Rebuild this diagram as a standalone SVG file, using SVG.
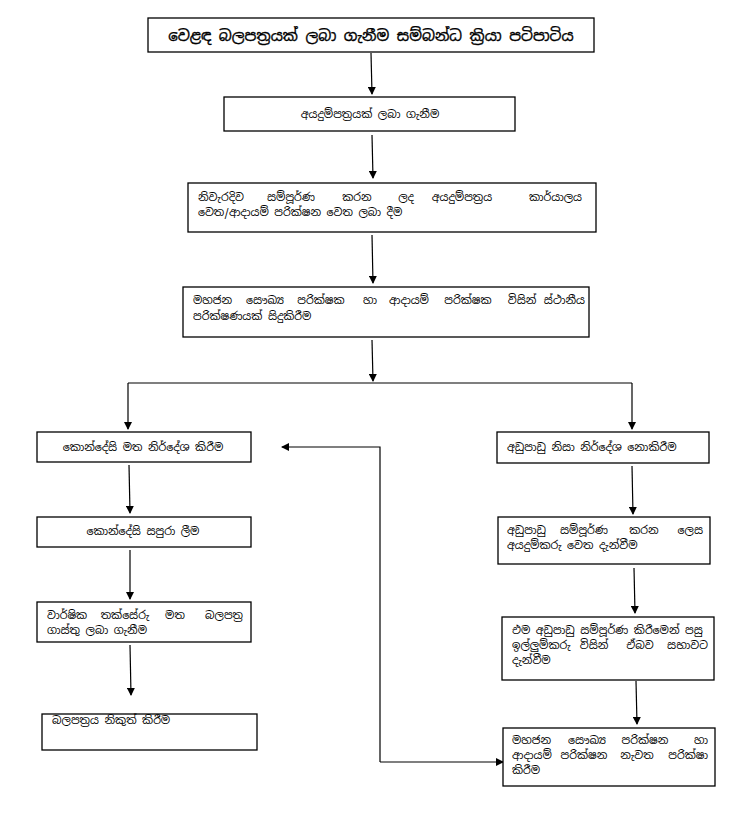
<svg xmlns="http://www.w3.org/2000/svg" width="754" height="815" viewBox="0 0 754 815">
<style>
.box{fill:#fff;stroke:#000;stroke-width:1.3}
.t{font-family:"Noto Sans Sinhala","Iskoola Pota","Noto Sans","Liberation Sans",sans-serif;font-size:11px;fill:#000}
.title{font-size:15px;stroke:#000;stroke-width:0.35}
.m{text-anchor:middle}
.e{text-anchor:end}
.ln{fill:none;stroke:#000;stroke-width:1.2}
</style>
<defs>
<marker id="ah" markerWidth="8" markerHeight="8" refX="7" refY="4" orient="auto" markerUnits="userSpaceOnUse">
<path d="M0,0 L8,4 L0,8 Z" fill="#000"/>
</marker>
</defs>
<rect width="754" height="815" fill="#fff"/>
<g id="connectors">
<line class="ln" x1="371" y1="53" x2="372" y2="94" marker-end="url(#ah)"/>
<line class="ln" x1="372" y1="135" x2="373" y2="178" marker-end="url(#ah)"/>
<line class="ln" x1="372" y1="235" x2="373" y2="283" marker-end="url(#ah)"/>
<line class="ln" x1="372" y1="340" x2="373" y2="381" marker-end="url(#ah)"/>
<line class="ln" x1="128" y1="383" x2="632" y2="383"/>
<line class="ln" x1="128" y1="383" x2="128" y2="429" marker-end="url(#ah)"/>
<line class="ln" x1="632" y1="383" x2="632" y2="429" marker-end="url(#ah)"/>
<line class="ln" x1="129" y1="465" x2="130" y2="513" marker-end="url(#ah)"/>
<line class="ln" x1="130" y1="550" x2="130" y2="599" marker-end="url(#ah)"/>
<line class="ln" x1="130" y1="645" x2="131" y2="695" marker-end="url(#ah)"/>
<line class="ln" x1="632" y1="466" x2="633" y2="514" marker-end="url(#ah)"/>
<line class="ln" x1="634" y1="568" x2="635" y2="613" marker-end="url(#ah)"/>
<line class="ln" x1="636" y1="681" x2="637" y2="724" marker-end="url(#ah)"/>
<polyline class="ln" points="380,762 380,447 282,447" marker-end="url(#ah)"/>
<line class="ln" x1="380" y1="762" x2="503" y2="762" marker-end="url(#ah)"/>
</g>
<g id="n1">
<rect class="box" x="148" y="18" width="446" height="34"/>
<text class="t title m" x="371" y="41">වෙළඳ බලපත්‍රයක් ලබා ගැනීම සම්බන්ධ ක්‍රියා පටිපාටිය</text>
</g>
<g id="n2">
<rect class="box" x="224" y="97" width="291" height="34"/>
<text class="t m" x="370" y="118">අයදුම්පත්‍රයක් ලබා ගැනීම</text>
</g>
<g id="n3">
<rect class="box" x="188" y="183" width="408" height="49"/>
<text class="t" x="198" y="201">නිවැරදිව</text>
<text class="t m" x="291" y="201">සම්පූර්ණ</text>
<text class="t m" x="357" y="201">කරන</text>
<text class="t m" x="406" y="201">ලද</text>
<text class="t m" x="462" y="201">අයදුම්පත්‍රය</text>
<text class="t e" x="582" y="201">කාර්යාලය</text>
<text class="t" x="198" y="216">වෙත/ආදායම් පරික්ෂන වෙත ලබා දීම</text>
</g>
<g id="n4">
<rect class="box" x="183" y="287" width="406" height="50"/>
<text class="t" x="193" y="304">මහජන</text>
<text class="t m" x="265" y="304">සෞඛ්‍ය</text>
<text class="t m" x="321" y="304">පරික්ෂක</text>
<text class="t m" x="370" y="304">හා</text>
<text class="t m" x="409" y="304">ආදායම්</text>
<text class="t m" x="468" y="304">පරික්ෂක</text>
<text class="t m" x="522" y="304">විසින්</text>
<text class="t e" x="585" y="304">ස්ථානීය</text>
<text class="t" x="193" y="320">පරික්ෂණයක් සිදුකිරීම</text>
</g>
<g id="n5">
<rect class="box" x="37" y="432" width="214" height="30"/>
<text class="t m" x="143" y="451">කොන්දේසි මත නිර්දේශ කිරීම</text>
</g>
<g id="n6">
<rect class="box" x="497" y="432" width="212" height="31"/>
<text class="t" x="507" y="451">අඩුපාඩු නිසා නිර්දේශ නොකිරීම</text>
</g>
<g id="n7">
<rect class="box" x="37" y="517" width="214" height="30"/>
<text class="t m" x="143" y="535">කොන්දේසි සපුරා ලීම</text>
</g>
<g id="n8">
<rect class="box" x="498" y="517" width="212" height="47"/>
<text class="t" x="507" y="534">අඩුපාඩු</text>
<text class="t m" x="584" y="534">සම්පූර්ණ</text>
<text class="t m" x="644" y="534">කරන</text>
<text class="t e" x="703" y="534">ලෙස</text>
<text class="t" x="507" y="549">අයදුම්කරු වෙත දැන්වීම</text>
</g>
<g id="n9">
<rect class="box" x="37" y="602" width="214" height="40"/>
<text class="t" x="47" y="619">වාර්ෂික</text>
<text class="t m" x="125" y="619">තක්සේරු</text>
<text class="t m" x="175" y="619">මත</text>
<text class="t e" x="243" y="619">බලපත්‍ර</text>
<text class="t" x="47" y="634">ගාස්තු ලබා ගැනීම</text>
</g>
<g id="n10">
<rect class="box" x="502" y="617" width="212" height="63"/>
<text class="t" x="512" y="634">එම අඩුපාඩු සම්පූර්ණ කිරීමෙන් පසු</text>
<text class="t" x="512" y="649">ඉල්ලුම්කරු</text>
<text class="t m" x="594" y="649">විසින්</text>
<text class="t m" x="640" y="649">ඒබව</text>
<text class="t e" x="708" y="649">සභාවට</text>
<text class="t" x="512" y="664">දැන්වීම</text>
</g>
<g id="n11">
<rect class="box" x="42" y="714" width="215" height="36"/>
<text class="t" x="52" y="724">බලපත්‍රය නිකුත් කිරීම</text>
</g>
<g id="n12">
<rect class="box" x="503" y="728" width="212" height="58"/>
<text class="t" x="512" y="744">මහජන</text>
<text class="t m" x="587" y="744">සෞඛ්‍ය</text>
<text class="t m" x="645" y="744">පරික්ෂන</text>
<text class="t e" x="708" y="744">හා</text>
<text class="t" x="512" y="759">ආදායම්</text>
<text class="t m" x="584" y="759">පරික්ෂන</text>
<text class="t m" x="637" y="759">නැවත</text>
<text class="t e" x="708" y="759">පරික්ෂා</text>
<text class="t" x="512" y="774">කිරීම</text>
</g>
</svg>
